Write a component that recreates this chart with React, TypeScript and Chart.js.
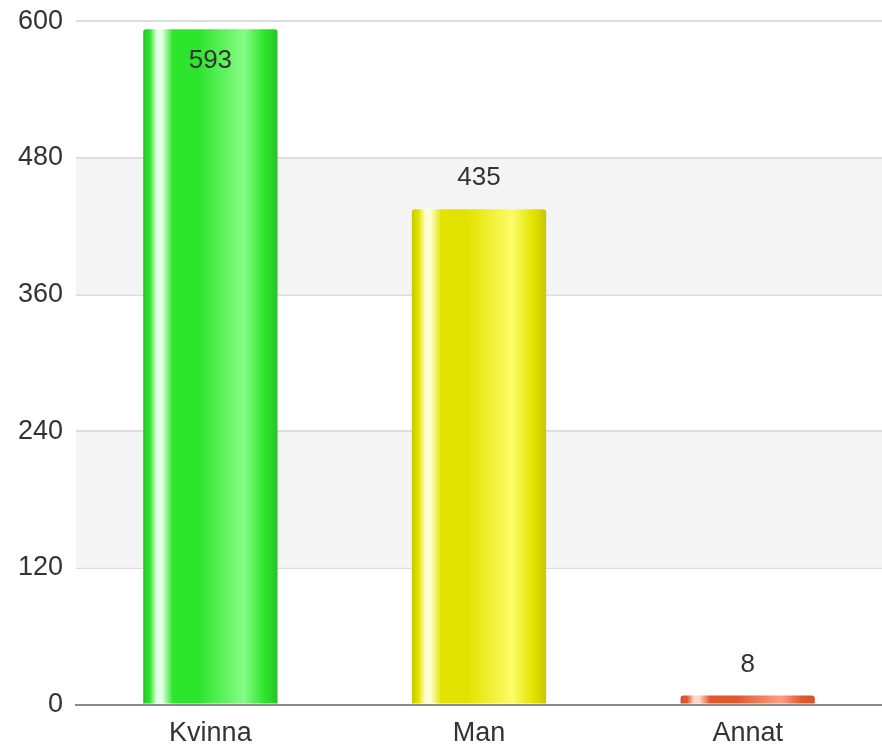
import React, { useEffect, useRef } from "react";
import { Chart, registerables } from "chart.js";

Chart.register(...registerables);

const categories = ["Kvinna", "Man", "Annat"];
const values = [593, 435, 8];
const yTicks = [0, 120, 240, 360, 480, 600];
// [edge, highlight, base, light]
const barPalettes = [
  ["#27c427", "#e4ffe4", "#2ee52e", "#86fc86"],
  ["#c8c800", "#ffffd0", "#e3e300", "#fcfc6a"],
  ["#d2562c", "#ffd8c8", "#e2582e", "#ff9e80"],
];

const FONT = "'Liberation Sans', Arial, sans-serif";

const bandsPlugin = {
  id: "bands",
  beforeDatasetsDraw(chart: any) {
    const { ctx, chartArea, scales } = chart;
    const y = scales.y;
    ctx.save();
    ctx.fillStyle = "#f4f4f4";
    for (let i = 1; i < yTicks.length - 1; i += 2) {
      const top = y.getPixelForValue(yTicks[i + 1]);
      const bot = y.getPixelForValue(yTicks[i]);
      ctx.fillRect(chartArea.left, top + 1, chartArea.right - chartArea.left, bot - top - 1);
    }
    ctx.restore();
  },
};

const gradientPlugin = {
  id: "barGradient",
  beforeDatasetsDraw(chart: any) {
    const { ctx } = chart;
    const meta = chart.getDatasetMeta(0);
    meta.data.forEach((el: any, i: number) => {
      const p = barPalettes[i];
      const left = el.x - el.width / 2;
      const g = ctx.createLinearGradient(left, 0, left + el.width, 0);
      g.addColorStop(0, p[0]);
      g.addColorStop(0.05, p[2]);
      g.addColorStop(0.1, p[1]);
      g.addColorStop(0.14, p[1]);
      g.addColorStop(0.22, p[2]);
      g.addColorStop(0.42, p[2]);
      g.addColorStop(0.75, p[3]);
      g.addColorStop(0.9, p[2]);
      g.addColorStop(1, p[0]);
      el.options.backgroundColor = g;
    });
  },
};

const labelPlugin = {
  id: "valueLabels",
  afterDatasetsDraw(chart: any) {
    const { ctx, chartArea } = chart;
    const meta = chart.getDatasetMeta(0);
    ctx.save();
    ctx.font = `26px ${FONT}`;
    ctx.fillStyle = "#333333";
    ctx.textAlign = "center";
    ctx.textBaseline = "middle";
    meta.data.forEach((el: any, i: number) => {
      let y = el.y - 31;
      if (y < chartArea.top + 12) y = el.y + 32;
      ctx.fillText(String(values[i]), el.x, y);
    });
    ctx.restore();
  },
};

export default function App() {
  const ref = useRef<HTMLCanvasElement>(null);
  useEffect(() => {
    const chart = new Chart(ref.current!, {
      type: "bar",
      data: {
        labels: categories,
        datasets: [
          {
            data: values,
            backgroundColor: barPalettes.map((p) => p[2]),
            borderWidth: 0,
            borderRadius: { topLeft: 3, topRight: 3, bottomLeft: 0, bottomRight: 0 },
            borderSkipped: false,
            categoryPercentage: 1,
            barPercentage: 0.5,
          },
        ],
      },
      options: {
        animation: false,
        responsive: false,
        maintainAspectRatio: false,
        layout: { padding: { top: 0, right: 0, left: 5, bottom: -11 } },
        plugins: { legend: { display: false }, tooltip: { enabled: false } },
        scales: {
          x: {
            grid: { display: false, drawTicks: false },
            border: { display: true, color: "#8a8a8a", width: 2 },
            ticks: {
              color: "#333333",
              padding: 13,
              font: { size: 27, family: FONT },
            },
          },
          y: {
            min: 0,
            max: 600,
            afterBuildTicks(axis: any) {
              axis.ticks = yTicks.map((v) => ({ value: v }));
            },
            grid: { color: "#dddddd", lineWidth: 2, drawTicks: false },
            border: { display: false },
            ticks: {
              color: "#333333",
              padding: 13,
              font: { size: 27, family: FONT },
            },
          },
        },
      },
      plugins: [bandsPlugin, gradientPlugin, labelPlugin],
    });
    return () => chart.destroy();
  }, []);
  return (
    <div style={{ position: "fixed", left: 0, top: 0, width: 882, height: 746, overflow: "hidden", background: "#fff" }}>
      <canvas
        ref={ref}
        width={882}
        height={760}
        style={{ display: "block", position: "absolute", left: 0, top: -8 }}
      />
    </div>
  );
}
